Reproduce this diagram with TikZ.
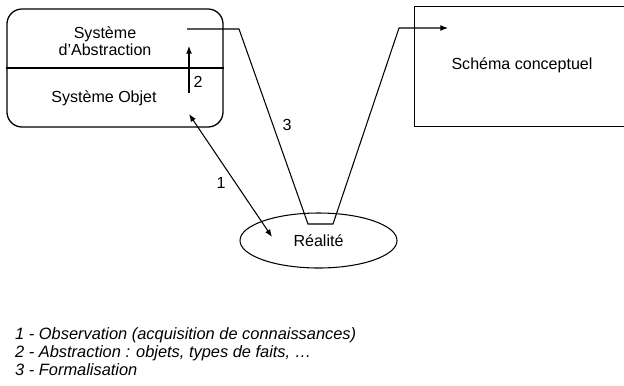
\documentclass[tikz,border=0pt]{standalone}
\usepackage{fontspec}
\setmainfont{Liberation Sans}
\usetikzlibrary{arrows.meta, positioning, shapes.geometric}
\tikzset{
  txt/.style={font=\fontsize{13.7}{15}\selectfont, inner sep=0pt, align=center},
  legend/.style={txt, font=\fontsize{14}{15}\selectfont\itshape, anchor=west},
  sysbox/.style={draw, rounded corners=0.45cm, line width=1.1pt,
    minimum width=6.48cm, minimum height=3.54cm},
  schbox/.style={rectangle, minimum width=8.55cm, minimum height=3.57cm},
  reel/.style={draw, ellipse, line width=0.9pt, minimum width=4.71cm,
    minimum height=1.65cm, txt},
  arr/.style={-{Latex[length=6.5pt, width=5pt]}, line width=0.9pt},
  darr/.style={{Latex[length=6.5pt, width=5pt]}-{Latex[length=6.5pt, width=5pt]}, line width=0.9pt}
}
\begin{document}
\begin{tikzpicture}[x=0.03cm, y=-0.03cm]
  \useasboundingbox (0,0) rectangle (624,385);
  \clip (0,0) rectangle (624,385);

  % boites
  \node[sysbox] (sys) at (115,68) {};
  \draw[line width=1.1pt] (sys.west) -- (sys.east);
  \node[txt] (abstr) at (105,41) {Système\\d'Abstraction};
  \node[txt] (objet) at (104,98) {Système Objet};
  \node[schbox] (schema) at (557.5,66.5) {};
  \draw[line width=1.1pt] (schema.north east) -- (schema.north west)
    -- (schema.south west) -- (schema.south east);
  \node[txt] (schtxt) at (522,65) {Schéma conceptuel};
  \node[reel] (realite) at (318.5,240.5) {Réalité};

  % points des liens
  \coordinate (a2s) at (189,93);
  \coordinate (a2e) at (189,46);
  \coordinate (a1s) at (189,114);
  \coordinate (a1e) at (272,237);
  \coordinate (f3a) at (187,29);
  \coordinate (f3b) at (239,29);
  \coordinate (f3c) at (308,224);
  \coordinate (f3d) at (333,224);
  \coordinate (f3e) at (399,28);
  \coordinate (f3f) at (448,28);

  \draw[arr] (a2s) -- (a2e);
  \draw[darr] (a1s) -- (a1e);
  \draw[arr] (f3a) -- (f3b) -- (f3c) -- (f3d) -- (f3e) -- (f3f);

  \node[txt] (n2) at (198,82) {2};
  \node[txt] (n3) at (287,125) {3};
  \node[txt] (n1) at (221,183) {1};

  % legende
  \node[legend] (leg1) at (15,335) {1 - Observation (acquisition de connaissances)};
  \node[legend] (leg2) at (15,353) {2 - Abstraction : objets, types de faits, \dots};
  \node[legend] (leg3) at (15,370) {3 - Formalisation};
\end{tikzpicture}
\end{document}
